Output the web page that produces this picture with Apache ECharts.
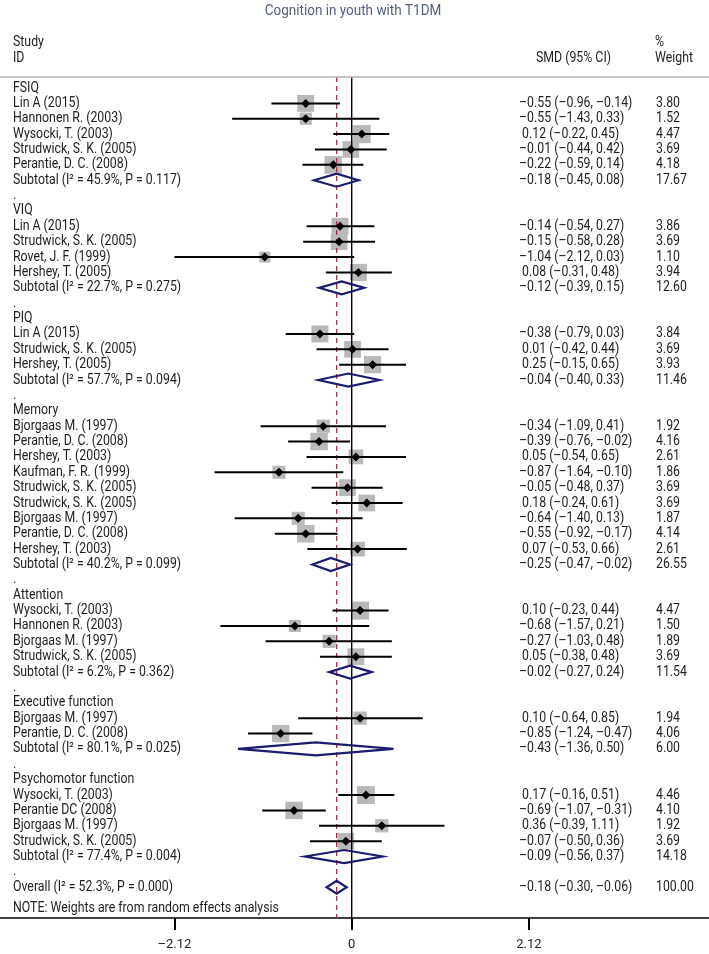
<!DOCTYPE html>
<html><head><meta charset="utf-8">
<script src="https://cdn.jsdelivr.net/npm/echarts@6/dist/echarts.min.js"></script>
<style>html,body{margin:0;padding:0;background:#fff}#c{width:709px;height:954px}</style>
</head><body><div id="c"></div>
<script>
const groupNames = ['FSIQ','VIQ','PIQ','Memory','Attention','Executive function','Psychomotor function'];
const studyNames = [
 ['Lin A (2015)','Hannonen R. (2003)','Wysocki, T. (2003)','Strudwick, S. K. (2005)','Perantie, D. C. (2008)'],
 ['Lin A (2015)','Strudwick, S. K. (2005)','Rovet, J. F. (1999)','Hershey, T. (2005)'],
 ['Lin A (2015)','Strudwick, S. K. (2005)','Hershey, T. (2005)'],
 ['Bjorgaas M. (1997)','Perantie, D. C. (2008)','Hershey, T. (2003)','Kaufman, F. R. (1999)','Strudwick, S. K. (2005)','Strudwick, S. K. (2005)','Bjorgaas M. (1997)','Perantie, D. C. (2008)','Hershey, T. (2003)'],
 ['Wysocki, T. (2003)','Hannonen R. (2003)','Bjorgaas M. (1997)','Strudwick, S. K. (2005)'],
 ['Bjorgaas M. (1997)','Perantie, D. C. (2008)'],
 ['Wysocki, T. (2003)','Perantie DC (2008)','Bjorgaas M. (1997)','Strudwick, S. K. (2005)']
];
const studySMD = [[-0.55,-0.55,0.12,-0.01,-0.22],[-0.14,-0.15,-1.04,0.08],[-0.38,0.01,0.25],[-0.34,-0.39,0.05,-0.87,-0.05,0.18,-0.64,-0.55,0.07],[0.10,-0.68,-0.27,0.05],[0.10,-0.85],[0.17,-0.69,0.36,-0.07]];
const studyLow = [[-0.96,-1.43,-0.22,-0.44,-0.59],[-0.54,-0.58,-2.12,-0.31],[-0.79,-0.42,-0.15],[-1.09,-0.76,-0.54,-1.64,-0.48,-0.24,-1.40,-0.92,-0.53],[-0.23,-1.57,-1.03,-0.38],[-0.64,-1.24],[-0.16,-1.07,-0.39,-0.50]];
const studyHigh = [[-0.14,0.33,0.45,0.42,0.14],[0.27,0.28,0.03,0.48],[0.03,0.44,0.65],[0.41,-0.02,0.65,-0.10,0.37,0.61,0.13,-0.17,0.66],[0.44,0.21,0.48,0.48],[0.85,-0.47],[0.51,-0.31,1.11,0.36]];
const studyWeight = [[3.80,1.52,4.47,3.69,4.18],[3.86,3.69,1.10,3.94],[3.84,3.69,3.93],[1.92,4.16,2.61,1.86,3.69,3.69,1.87,4.14,2.61],[4.47,1.50,1.89,3.69],[1.94,4.06],[4.46,4.10,1.92,3.69]];
const subI2 = [45.9,22.7,57.7,40.2,6.2,80.1,77.4];
const subP = [0.117,0.275,0.094,0.099,0.362,0.025,0.004];
const subSMD = [-0.18,-0.12,-0.04,-0.25,-0.02,-0.43,-0.09];
const subLow = [-0.45,-0.39,-0.40,-0.47,-0.27,-1.36,-0.56];
const subHigh = [0.08,0.15,0.33,-0.02,0.24,0.50,0.37];
const subWeight = [17.67,12.60,11.46,26.55,11.54,6.00,14.18];
const overallValues = [-0.18,-0.30,-0.06,100.00];
const overallHet = [52.3,0.000];
const xTicks = [-2.12,0,2.12];

const FONT = 'Roboto, "Noto Sans", sans-serif';
const FS = 14;
const SX = 0.88;
const TXT = '#1e1e1e';

function fmt(v){ return (v < 0 ? '\u2013' : '') + Math.abs(v).toFixed(2); }
function ciText(e,l,h){ return (e < 0 ? '' : ' ') + fmt(e) + ' (' + fmt(l) + ', ' + fmt(h) + ')'; }
function txt(x, y, s, extra){
  return Object.assign({type:'text', x:x, y:y, scaleX:SX,
    style:{text:s, fontFamily:FONT, fontSize:FS, fill:TXT, verticalAlign:'middle'}}, extra || {});
}

// build rows
const rows = [];
let r = 0;
groupNames.forEach((g, gi) => {
  rows.push({y:r++, kind:'group', label:g});
  studyNames[gi].forEach((s, si) => {
    rows.push({y:r++, kind:'study', label:s, est:studySMD[gi][si], lo:studyLow[gi][si], hi:studyHigh[gi][si], w:studyWeight[gi][si]});
  });
  rows.push({y:r++, kind:'sub', label:'Subtotal (I\u00b2 = ' + subI2[gi].toFixed(1) + '%, P = ' + subP[gi].toFixed(3) + ')',
    est:subSMD[gi], lo:subLow[gi], hi:subHigh[gi], w:subWeight[gi]});
  rows.push({y:r++, kind:'dot', label:'.'});
});
rows.push({y:r++, kind:'overall', label:'Overall (I\u00b2 = ' + overallHet[0].toFixed(1) + '%, P = ' + overallHet[1].toFixed(3) + ')',
  est:overallValues[0], lo:overallValues[1], hi:overallValues[2], w:overallValues[3]});

const kindCode = {study:0, sub:1, overall:2};
const markRows = rows.filter(d => d.est !== undefined);
const markData = markRows.map(d => [d.y, d.est, d.lo, d.hi, d.w, kindCode[d.kind]]);

const chart = echarts.init(document.getElementById('c'), null, {renderer:'canvas'});
const option = {
  animation:false,
  backgroundColor:'#fff',
  grid:{left:0, right:0, top:77, bottom:36},
  xAxis:{type:'value', min:-4.207, max:4.274, position:'bottom',
    axisLine:{show:true, onZero:false, lineStyle:{color:'#000', width:1.6}},
    axisTick:{show:true, customValues:xTicks, length:12, lineStyle:{color:'#000', width:2}},
    axisLabel:{customValues:xTicks, margin:20, fontFamily:FONT, fontSize:13, color:TXT,
      formatter: v => v === 0 ? '0' : fmt(v)},
    splitLine:{show:false}},
  yAxis:{type:'value', inverse:true, min:-0.716, max:54.0, show:false},
  graphic:[
    {type:'line', shape:{x1:0, y1:77, x2:709, y2:77}, style:{stroke:'#b3b3b3', lineWidth:1.5}, z:5},
    {type:'text', x:353, y:11, scaleX:0.9, style:{text:'Cognition in youth with T1DM', fontFamily:FONT, fontSize:15, fill:'#52607e', textAlign:'center', verticalAlign:'middle'}},
    txt(13, 42, 'Study'),
    txt(13, 58, 'ID'),
    txt(536, 58, 'SMD (95% CI)'),
    txt(655, 42, '%'),
    txt(655, 58, 'Weight'),
    txt(13, 908, 'NOTE: Weights are from random effects analysis')
  ],
  series:[
    {type:'custom', z:1, silent:true,
      data:[[0, overallValues[0]]],
      encode:{x:[0,1]},
      renderItem:(params, api) => {
        const cs = params.coordSys;
        const x0 = api.coord([api.value(0), 0])[0];
        const xm = api.coord([api.value(1), 0])[0];
        return {type:'group', children:[
          {type:'line', shape:{x1:xm, y1:cs.y, x2:xm, y2:cs.y+cs.height}, style:{stroke:'#a2343f', lineWidth:1.3, lineDash:[5,4]}},
          {type:'line', shape:{x1:x0, y1:cs.y, x2:x0, y2:cs.y+cs.height}, style:{stroke:'#000', lineWidth:1.4}}
        ]};
      }},
    {type:'custom', z:0, silent:true,
      data:markData.filter(d => d[5] === 0),
      encode:{x:1, y:0},
      renderItem:(params, api) => {
        const p = api.coord([api.value(1), api.value(0)]);
        const side = 4.1 + 6.57*Math.sqrt(api.value(4));
        return {type:'rect', shape:{x:p[0]-side/2, y:p[1]-side/2, width:side, height:side}, style:{fill:'#b9b9b9'}};
      }},
    {type:'custom', z:3, silent:true,
      data:markData,
      encode:{x:[1,2,3], y:0},
      renderItem:(params, api) => {
        const y = api.value(0);
        const pe = api.coord([api.value(1), y]);
        const pl = api.coord([api.value(2), y]);
        const ph = api.coord([api.value(3), y]);
        const k = api.value(5);
        if (k === 0) {
          return {type:'group', children:[
            {type:'line', shape:{x1:pl[0], y1:pe[1], x2:ph[0], y2:pe[1]}, style:{stroke:'#000', lineWidth:2}},
            {type:'polygon', shape:{points:[[pe[0]-4.5,pe[1]],[pe[0],pe[1]-4.5],[pe[0]+4.5,pe[1]],[pe[0],pe[1]+4.5]]}, style:{fill:'#000'}}
          ]};
        }
        return {type:'polygon', shape:{points:[[pl[0],pe[1]],[pe[0],pe[1]-6.5],[ph[0],pe[1]],[pe[0],pe[1]+6.5]]},
          style:{fill:null, stroke:'#1b1b6f', lineWidth:2.2}};
      }},
    {type:'custom', z:4, silent:true,
      data:rows.map(d => [0, d.y]),
      encode:{x:0, y:1},
      renderItem:(params, api) => {
        const d = rows[params.dataIndex];
        const py = api.coord([0, api.value(1)])[1];
        const ch = [txt(13, py, d.label)];
        if (d.est !== undefined) {
          ch.push(txt(519, py, ciText(d.est, d.lo, d.hi)));
          ch.push(txt(656, py, d.w.toFixed(2)));
        }
        return {type:'group', children:ch};
      }}
  ]
};
chart.setOption(option);
</script>
</body></html>
